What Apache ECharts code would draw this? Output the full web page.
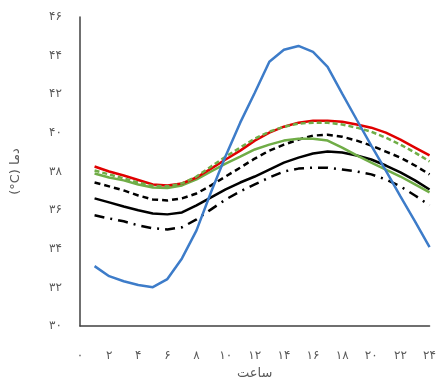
<!DOCTYPE html>
<html><head><meta charset="utf-8">
<script src="https://cdn.jsdelivr.net/npm/echarts@6/dist/echarts.min.js"></script>
<style>html,body{margin:0;padding:0;background:#fff}#c{width:439px;height:385px;direction:rtl}</style>
</head><body><div id="c"></div>
<script>
const hours = [1,2,3,4,5,6,7,8,9,10,11,12,13,14,15,16,17,18,19,20,21,22,23,24];
const blueVals = [33.1,32.58,32.32,32.12,32.01,32.43,33.5,34.95,36.94,38.8,40.53,42.08,43.68,44.3,44.5,44.19,43.42,42.03,40.68,39.34,38.05,36.71,35.42,34.08];
const redVals = [38.26,38.0,37.79,37.56,37.33,37.28,37.38,37.69,38.15,38.62,39.08,39.6,40.01,40.32,40.53,40.63,40.63,40.58,40.43,40.27,40.01,39.65,39.24,38.83];
const greenDashVals = [38.05,37.85,37.64,37.43,37.25,37.23,37.38,37.74,38.26,38.77,39.24,39.7,40.06,40.32,40.48,40.53,40.53,40.43,40.27,40.06,39.75,39.39,38.98,38.52];
const greenVals = [37.9,37.69,37.54,37.33,37.17,37.15,37.28,37.59,38.0,38.41,38.77,39.14,39.39,39.6,39.7,39.7,39.6,39.24,38.83,38.46,38.1,37.74,37.33,36.92];
const blackDashVals = [37.43,37.23,37.02,36.76,36.55,36.5,36.61,36.86,37.28,37.74,38.2,38.67,39.08,39.39,39.65,39.86,39.9,39.8,39.6,39.34,39.03,38.72,38.31,37.85];
const blackVals = [36.61,36.4,36.19,35.99,35.83,35.78,35.88,36.25,36.66,37.07,37.43,37.74,38.1,38.46,38.72,38.93,39.03,38.98,38.83,38.62,38.31,37.95,37.54,37.07];
const dashDotVals = [35.73,35.57,35.42,35.21,35.06,35.0,35.11,35.52,36.04,36.55,36.97,37.33,37.69,38.0,38.15,38.2,38.2,38.1,38.0,37.85,37.59,37.23,36.76,36.25];
const xTitle = 'ساعت';
const yTitle = 'دما (\u200E°C)';

const fa = n => String(n).replace(/[0-9]/g, d => '۰۱۲۳۴۵۶۷۸۹'[+d]);
const pts = arr => hours.map((h, i) => [h, arr[i]]);
const FONT = 'DejaVu Sans';
const chart = echarts.init(document.getElementById('c'), null, {renderer: 'canvas'});
function s(name, data, color, width, type, z) {
  return {name, type: 'line', data: pts(data), showSymbol: false, symbol: 'none', z,
    lineStyle: {color, width, type, cap: 'butt'}, animation: false};
}
chart.setOption({
  animation: false,
  grid: {left: 80, right: 8, top: 17, bottom: 58},
  xAxis: {type: 'value', min: 0, max: 24, interval: 2,
    axisLine: {lineStyle: {color: '#404040', width: 1.5}}, axisTick: {show: false}, splitLine: {show: false},
    axisLabel: {formatter: v => fa(v), color: '#595959', fontFamily: FONT, fontSize: 12, margin: 24},
    name: xTitle, nameLocation: 'middle', nameGap: 41,
    nameTextStyle: {color: '#595959', fontFamily: FONT, fontSize: 13}},
  yAxis: {type: 'value', min: 30, max: 46, interval: 2,
    axisLine: {show: true, lineStyle: {color: '#404040', width: 1.5}}, axisTick: {show: false}, splitLine: {show: false},
    axisLabel: {formatter: v => fa(v), color: '#595959', fontFamily: FONT, fontSize: 12, margin: 18},
    name: yTitle, nameLocation: 'middle', nameGap: 58,
    nameTextStyle: {color: '#595959', fontFamily: FONT, fontSize: 13}},
  series: [
    s('dashdot', dashDotVals, '#000', 2.5, [10, 6, 2, 6], 2),
    s('black', blackVals, '#000', 2.5, 'solid', 3),
    s('blackdash', blackDashVals, '#000', 2.5, [6, 4], 4),
    s('green', greenVals, '#70AD47', 2.5, 'solid', 5),
    s('red', redVals, '#E00000', 2.5, 'solid', 6),
    s('greendash', greenDashVals, '#70AD47', 2.5, [5, 3], 7),
    s('blue', blueVals, '#3D7CC9', 2.5, 'solid', 8)
  ]
});
</script></body></html>
